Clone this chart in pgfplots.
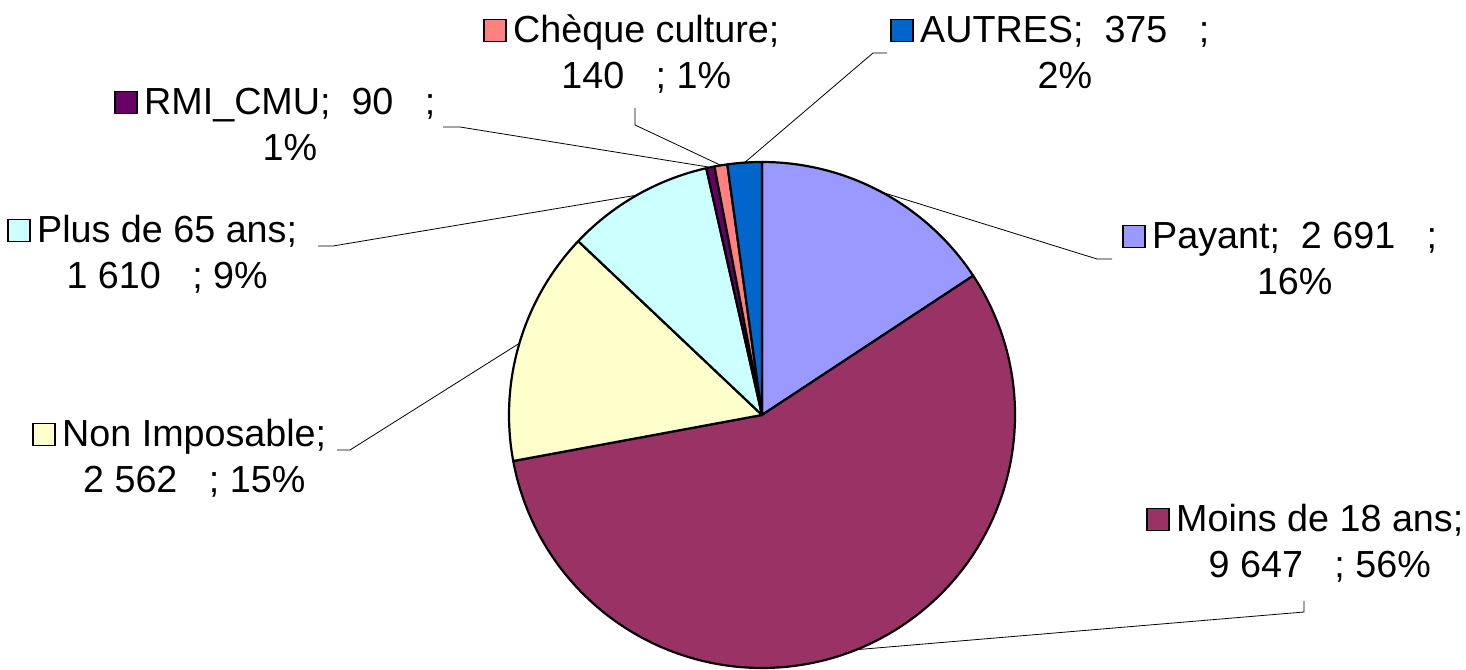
\documentclass[border=0pt]{standalone}
\usepackage{pgfplots}
\pgfplotsset{compat=1.18}
\usepackage{pgfplotstable}
\usepackage{fontspec}
\setmainfont{Liberation Sans}

\definecolor{cPay}{HTML}{9999FF}
\definecolor{cMoins}{HTML}{993366}
\definecolor{cNonImp}{HTML}{FFFFCC}
\definecolor{cPlus}{HTML}{CCFFFF}
\definecolor{cRMI}{HTML}{660066}
\definecolor{cCheque}{HTML}{FF8080}
\definecolor{cAutres}{HTML}{0066CC}

\pgfplotstableread[col sep=comma]{
label,value
Payant,2691
Moins de 18 ans,9647
Non Imposable,2562
Plus de 65 ans,1610
RMI CMU,90
Cheque culture,140
AUTRES,375
}\piedata

\newcommand\getval[2]{\pgfplotstablegetelem{#1}{value}\of\piedata\global\let#2\pgfplotsretval}
\getval{0}\vA
\getval{1}\vB
\getval{2}\vC
\getval{3}\vD
\getval{4}\vE
\getval{5}\vF
\getval{6}\vG
% total in hundreds (avoids TeX dimension overflow)
\pgfmathsetmacro\T{\vA/100+\vB/100+\vC/100+\vD/100+\vE/100+\vF/100+\vG/100}
\pgfmathsetmacro\aA{90}
\pgfmathsetmacro\aB{\aA-\vA/\T*3.6}
\pgfmathsetmacro\aC{\aB-\vB/\T*3.6}
\pgfmathsetmacro\aD{\aC-\vC/\T*3.6}
\pgfmathsetmacro\aE{\aD-\vD/\T*3.6}
\pgfmathsetmacro\aF{\aE-\vE/\T*3.6}
\pgfmathsetmacro\aG{\aF-\vF/\T*3.6}
\pgfmathsetmacro\aH{-270}
\pgfmathsetmacro\mA{(\aA+\aB)/2}
\pgfmathsetmacro\mB{(\aB+\aC)/2}
\pgfmathsetmacro\mC{(\aC+\aD)/2}
\pgfmathsetmacro\mD{(\aD+\aE)/2}
\pgfmathsetmacro\mE{(\aE+\aF)/2}
\pgfmathsetmacro\mF{(\aF+\aG)/2}
\pgfmathsetmacro\mG{(\aG+\aH)/2}

\newcommand\lbl{\fontsize{37.7}{45}\selectfont}
% #1 name, #2 x, #3 y (baseline), #4 colour, #5 line 1, #6 line 2
\newcommand\pielabel[6]{%
  \node[anchor=base west, inner sep=0pt, font=\lbl] (#1) at (axis cs:#2,#3) {#5};
  \node[anchor=base, inner sep=0pt, font=\lbl] at ([yshift=-46pt]#1.base) {#6};
  \node[draw=black, line width=1.8pt, fill=#4, minimum size=22pt, inner sep=0pt, anchor=east]
    at ([xshift=-6pt,yshift=12.5pt]#1.base west) {};
}
\newcommand\slice[3]{%
  \filldraw[fill=#3, draw=black, line width=2.2pt, line join=round]
    (axis cs:762,254) -- ++(#1:253pt) arc[start angle=#1, end angle=#2, radius=253pt] -- cycle;
}

\begin{document}
\begin{tikzpicture}
\begin{axis}[
  x=1pt, y=1pt,
  xmin=0, xmax=1466, ymin=0, ymax=669,
  hide axis, clip=false,
]
\slice{\aA}{\aB}{cPay}
\slice{\aB}{\aC}{cMoins}
\slice{\aC}{\aD}{cNonImp}
\slice{\aD}{\aE}{cPlus}
\slice{\aE}{\aF}{cRMI}
\slice{\aF}{\aG}{cCheque}
\slice{\aG}{\aH}{cAutres}

% leader lines
\draw[line width=0.8pt] (axis cs:762,254) ++(\mA:253pt) -- (axis cs:1097,410) -- (axis cs:1112,410);
\draw[line width=0.8pt] (axis cs:762,254) ++(\mB:253pt) -- (axis cs:1304,57) -- (axis cs:1304,68);
\draw[line width=0.8pt] (axis cs:762,254) ++(\mC:253pt) -- (axis cs:350,219) -- (axis cs:337,219);
\draw[line width=0.8pt] (axis cs:762,254) ++(\mD:253pt) -- (axis cs:333,423) -- (axis cs:318,423);
\draw[line width=0.8pt] (axis cs:762,254) ++(\mE:253pt) -- (axis cs:460,542) -- (axis cs:443,542);
\draw[line width=0.8pt] (axis cs:762,254) ++(\mF:253pt) -- (axis cs:635,544) -- (axis cs:635,561);
\draw[line width=0.8pt] (axis cs:762,254) ++(\mG:253pt) -- (axis cs:873,616) -- (axis cs:887,616);

\pielabel{lA}{1152}{420}{cPay}{Payant;~~2~691~~~;}{16\%}
\pielabel{lB}{1176}{137}{cMoins}{Moins de 18 ans;}{9~647~~~; 56\%}
\pielabel{lC}{62}{222}{cNonImp}{Non Imposable;}{2~562~~~; 15\%}
\pielabel{lD}{37}{426}{cPlus}{Plus de 65 ans;}{1~610~~~; 9\%}
\pielabel{lE}{144}{554}{cRMI}{RMI\_CMU;~~90~~~;}{1\%}
\pielabel{lF}{513}{626}{cCheque}{Chèque culture;}{140~~~; 1\%}
\pielabel{lG}{920}{626}{cAutres}{AUTRES;~~375~~~;}{2\%}
\end{axis}
\pgfresetboundingbox
\path (current axis.south west) rectangle (current axis.north east);
\end{tikzpicture}
\end{document}
